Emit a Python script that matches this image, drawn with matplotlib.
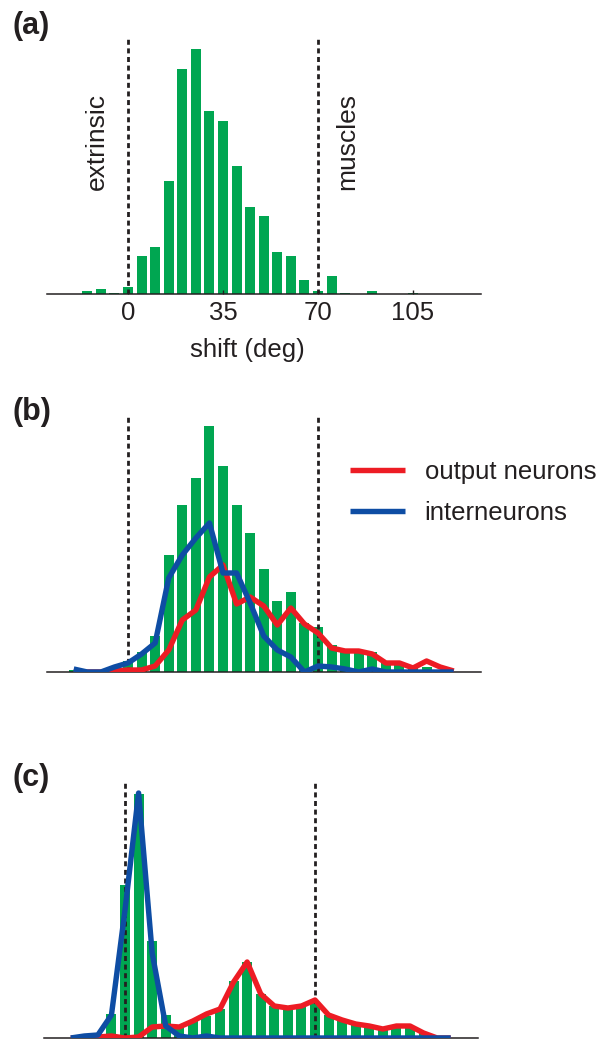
import matplotlib

matplotlib.use("Agg")
import matplotlib.pyplot as plt

plt.rcParams["font.family"] = ["Liberation Sans", "DejaVu Sans"]

INK = "#231F20"
GREEN = "#00A651"
RED = "#ED1C24"
BLUE = "#0E4DA4"

# bin centres (deg) shared by all three histograms and both curves
shift_bins = [-20, -15, -10, -5, 0, 5, 10, 15, 20, 25, 30, 35, 40, 45, 50,
              55, 60, 65, 70, 75, 80, 85, 90, 95, 100, 105, 110, 115, 120]

# (a) all cells
counts_a = [0, 3, 5, 1, 7, 38, 47, 113, 225, 245, 183, 173, 128, 87, 78,
            42, 38, 14, 3, 18, 1, 0, 3, 0, 0, 1, 0, 0, 0]

# (b) model population
counts_b = [2, 0, 0, 6, 11, 20, 36, 117, 167, 194, 246, 206, 167, 139, 103,
            71, 80, 49, 45, 27, 23, 22, 20, 9, 7, 4, 5, 2, 0]
output_b = [0, 0, 0, 1, 2, 2, 6, 22, 52, 62, 95, 107, 68, 75, 66,
            47, 64, 48, 39, 24, 21, 21, 18, 9, 9, 4, 11, 5, 1]
inter_b = [3, 0, 0, 5, 9, 18, 29, 94, 117, 134, 149, 99, 99, 69, 36,
           22, 15, 0, 6, 5, 3, 0, 3, 0, 0, 0, 0, 0, 0]

# (c) model population
counts_c = [0, 0, 0, 24, 153, 244, 97, 23, 12, 17, 22, 29, 57, 76, 44,
            32, 30, 32, 35, 23, 18, 14, 12, 8, 10, 11, 5, 2, 0]
output_c = [0, 0, 1, 2, 0, 1, 11, 12, 11, 17, 24, 29, 56, 76, 44,
            32, 30, 32, 38, 23, 18, 14, 12, 9, 12, 12, 5, 0, 0]
inter_c = [0, 2, 3, 23, 128, 245, 85, 12, 2, 0, 2, 0, 0, 0, 0,
           0, 0, 0, 0, 0, 0, 0, 0, 0, 0, 0, 0, 0, 0]

boundaries = [0, 70]
tick_vals = [0, 35, 70, 105]

W, H = 610, 1045
XLIM = (-29.85, 130.05)
FS = 18.5
LW = 3.9


def _axes(fig, left, top, right, bottom):
    ax = fig.add_axes([left / W, 1 - bottom / H, (right - left) / W, (bottom - top) / H])
    ax.set_xlim(*XLIM)
    ax.set_ylim(0, bottom - top)
    for side in ("left", "right", "top"):
        ax.spines[side].set_visible(False)
    ax.spines["bottom"].set_color(INK)
    ax.spines["bottom"].set_linewidth(1.1)
    ax.set_yticks([])
    ax.set_xticks([])
    return ax


def _hist(ax, counts):
    ax.bar(shift_bins, counts, width=3.7, color=GREEN, linewidth=0, zorder=1)
    for x in boundaries:
        ax.axvline(x, color=INK, linewidth=2.0, dashes=(1.8, 1.3), zorder=2)


def _curve(ax, ys, color, z, label=None):
    ax.plot(shift_bins, ys, color=color, linewidth=LW, zorder=z,
            solid_joinstyle="round", solid_capstyle="butt", label=label)


fig = plt.figure(figsize=(W / 100, H / 100), dpi=100)

ax_a = _axes(fig, 47, 37, 481, 294)
ax_b = _axes(fig, 47, 415, 481, 672)
ax_c = _axes(fig, 44, 782, 478, 1038)

# (a)
_hist(ax_a, counts_a)
ax_a.set_xticks(tick_vals)
ax_a.tick_params(axis="x", direction="in", length=3, width=1, color=INK,
                 labelsize=FS, labelcolor=INK, pad=5)
ax_a.text(44, -56, "shift (deg)", ha="center", va="center", fontsize=FS,
          color=INK, clip_on=False)
ax_a.text(-11.4, 104, "extrinsic", rotation=90, ha="center", va="bottom",
          fontsize=19, color=INK)
ax_a.text(80.7, 104, "muscles", rotation=90, ha="center", va="bottom",
          fontsize=19, color=INK)

# (b)
_hist(ax_b, counts_b)
_curve(ax_b, output_b, RED, 3, "output neurons")
_curve(ax_b, inter_b, BLUE, 4, "interneurons")
ax_b.legend(loc="upper left", bbox_to_anchor=(350 / W, 1 - 460 / H),
            bbox_transform=fig.transFigure, frameon=False, fontsize=FS,
            labelcolor=INK, borderpad=0, borderaxespad=0, handlelength=2.15,
            handletextpad=0.75, labelspacing=0.65)

# (c)
_hist(ax_c, counts_c)
_curve(ax_c, output_c, RED, 3)
_curve(ax_c, inter_c, BLUE, 4)

for lab, y in (("(a)", 26), ("(b)", 412), ("(c)", 778)):
    fig.text(12 / W, 1 - y / H, lab, fontsize=22, fontweight="bold",
             color=INK, va="center", ha="left")

fig.savefig("out.png", dpi=100, facecolor="white")
